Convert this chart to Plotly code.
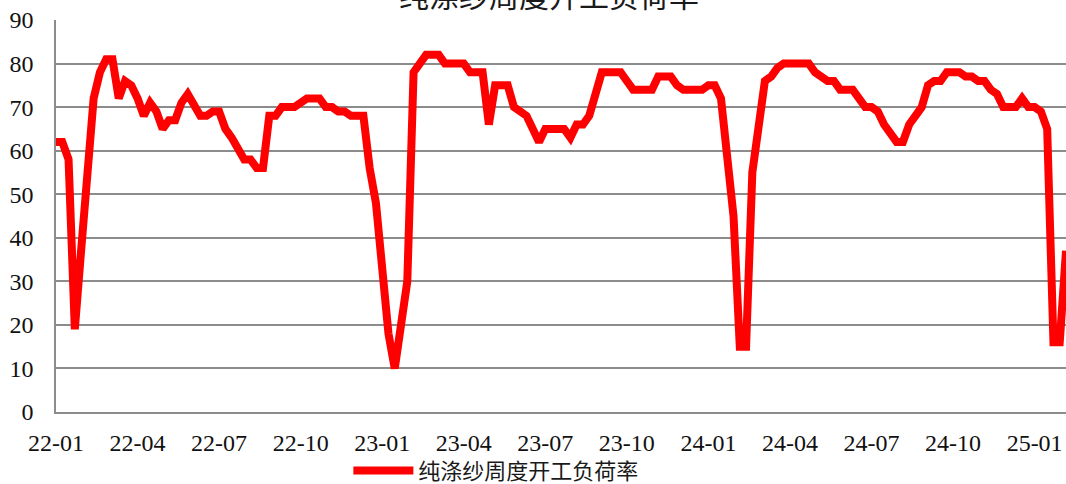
import pandas as pd
import plotly.graph_objects as go

# Weekly operating rate of pure polyester yarn mills (%)
series_name = "纯涤纱周度开工负荷率"
title_text = "纯涤纱周度开工负荷率"

week_dates = pd.date_range("2022-01-07", periods=162, freq="7D")

load_rate = [
    62, 62, 58, 19, 37, 54, 72, 78, 81, 81,
    72, 76, 75, 72, 68, 71, 69, 65, 67, 67,
    71, 73, 70, 68, 68, 69, 69, 65, 63, 60,
    58, 58, 56, 56, 68, 68, 70, 70, 70, 71,
    72, 72, 72, 70, 70, 69, 69, 68, 68, 68,
    56, 48, 33, 18, 10, 20, 30, 78, 80, 82,
    82, 82, 80, 80, 80, 80, 78, 78, 78, 66,
    75, 75, 75, 70, 69, 68, 65, 62, 65, 65,
    65, 65, 63, 66, 66, 68, 73, 78, 78, 78,
    78, 76, 74, 74, 74, 74, 77, 77, 77, 75,
    74, 74, 74, 74, 75, 75, 72, 58, 45, 15,
    15, 55, 66, 76, 77, 79, 80, 80, 80, 80,
    80, 78, 77, 76, 76, 74, 74, 74, 72, 70,
    70, 69, 66, 64, 62, 62, 66, 68, 70, 75,
    76, 76, 78, 78, 78, 77, 77, 76, 76, 74,
    73, 70, 70, 70, 72, 70, 70, 69, 65, 16,
    16, 37,
]

# Category labels every 13 weeks, shown as yy-mm
tick_step = 13
tick_dates = list(week_dates[::tick_step])
tick_labels = [d.strftime("%y-%m") for d in tick_dates]

y_ticks = list(range(0, 91, 10))

serif = "Times New Roman"
cjk = "Noto Sans CJK SC"
grid_gray = "#8c8c8c"

fig = go.Figure()
fig.add_trace(
    go.Scatter(
        x=week_dates,
        y=load_rate,
        mode="lines",
        name=series_name,
        line=dict(color="#ff0000", width=8),
    )
)

fig.update_layout(
    width=1066,
    height=484,
    margin=dict(l=56, r=0, t=20, b=72, autoexpand=False),
    paper_bgcolor="white",
    plot_bgcolor="white",
    showlegend=True,
    legend=dict(
        orientation="h",
        x=0.436,
        xanchor="center",
        y=-0.15,
        yanchor="middle",
        font=dict(family=cjk, size=22, color="#1a1a1a"),
        itemwidth=60,
        bgcolor="rgba(0,0,0,0)",
    ),
    annotations=[
        dict(
            text=title_text,
            xref="paper",
            yref="paper",
            x=0.488,
            y=1.0 + 26 / 392,
            xanchor="center",
            yanchor="middle",
            showarrow=False,
            font=dict(family=cjk, size=30, color="#1a1a1a"),
        )
    ],
)

fig.update_xaxes(
    range=[week_dates[0], week_dates[-1]],
    tickvals=tick_dates,
    ticktext=tick_labels,
    tickfont=dict(family=serif, size=24, color="#111111"),
    showgrid=False,
    showline=True,
    linecolor=grid_gray,
    linewidth=1.5,
    ticks="",
    ticklabelstandoff=8,
    automargin=False,
    zeroline=False,
)

fig.update_yaxes(
    range=[0, 90],
    tickvals=y_ticks,
    tickfont=dict(family=serif, size=24, color="#111111"),
    showgrid=True,
    gridcolor=grid_gray,
    gridwidth=1.5,
    showline=True,
    linecolor=grid_gray,
    linewidth=1.5,
    ticks="",
    ticklabelstandoff=16,
    automargin=False,
    zeroline=False,
)

fig.write_html("out.html")
